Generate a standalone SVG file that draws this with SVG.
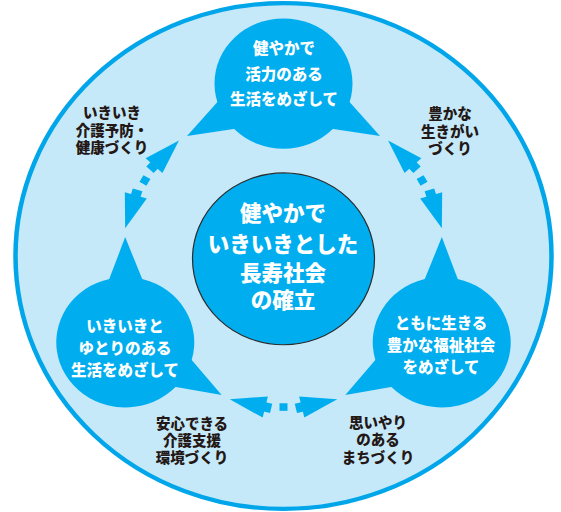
<svg xmlns="http://www.w3.org/2000/svg" xmlns:xlink="http://www.w3.org/1999/xlink" width="561" height="512" viewBox="0 0 561 512">
<style>
.cyan{fill:#00AEEF}
.wt{fill:#FFFFFF;font-family:"Noto Sans CJK JP","Noto Sans",sans-serif;font-weight:900;text-anchor:middle}
.bub{font-size:15.5px}
.ctr{font-size:21.5px}
.lbl{fill:#231815;font-family:"Noto Sans CJK JP","Noto Sans",sans-serif;font-weight:900;font-size:14.5px;text-anchor:middle}
</style>
<defs>
<g id="bubbleShape">
<circle cx="0" cy="-182.7" r="69"/>
<polygon points="-96.5,-127.1 -62.7,-167 -44.75,-135.3"/>
<polygon points="96.5,-127.1 62.7,-167 44.75,-135.3"/>
</g>
<g id="head">
<polygon points="160,18.25 148.5,-18.25 171.5,-18.25"/>
<rect x="155" y="-24.25" width="10" height="6.8"/>
</g>
<rect id="sq" x="156" y="-4" width="8" height="8"/>
</defs>
<g transform="translate(283.5,256) scale(1,0.944)">
<g id="outer-circle">
<circle cx="0" cy="0" r="268" fill="#C6E9FA" stroke="#00A6E9" stroke-width="4.5"/>
</g>
<g id="center-shape">
<circle cx="0" cy="3" r="91" class="cyan" stroke="#2B2B2B" stroke-width="1.2"/>
</g>
<g id="bubble-top-shape" class="cyan"><use xlink:href="#bubbleShape"/></g>
<g id="bubble-right-shape" class="cyan"><use xlink:href="#bubbleShape" transform="rotate(120)"/></g>
<g id="bubble-left-shape" class="cyan"><use xlink:href="#bubbleShape" transform="rotate(240)"/></g>
<g id="connectors" class="cyan">
<use xlink:href="#head" transform="rotate(103)"/>
<use xlink:href="#head" transform="rotate(77) scale(1,-1)"/>
<use xlink:href="#sq" transform="rotate(90)"/>
<use xlink:href="#head" transform="rotate(223)"/>
<use xlink:href="#head" transform="rotate(197) scale(1,-1)"/>
<use xlink:href="#sq" transform="rotate(210)"/>
<use xlink:href="#head" transform="rotate(343)"/>
<use xlink:href="#head" transform="rotate(317) scale(1,-1)"/>
<use xlink:href="#sq" transform="rotate(330)"/>
</g>
</g>
<g id="center">
<text class="wt ctr" x="283" y="221">健やかで</text>
<text class="wt ctr" x="283" y="252">いきいきとした</text>
<text class="wt ctr" x="283" y="281">長寿社会</text>
<text class="wt ctr" x="283" y="308">の確立</text>
</g>
<g id="bubble-top">
<text class="wt bub" x="284" y="54">健やかで</text>
<text class="wt bub" x="284" y="79.5">活力のある</text>
<text class="wt bub" x="284" y="105">生活をめざして</text>
</g>
<g id="bubble-left">
<text class="wt bub" x="125" y="332">いきいきと</text>
<text class="wt bub" x="125" y="354">ゆとりのある</text>
<text class="wt bub" x="125" y="376">生活をめざして</text>
</g>
<g id="bubble-right">
<text class="wt bub" x="441" y="329">ともに生きる</text>
<text class="wt bub" x="441" y="351">豊かな福祉社会</text>
<text class="wt bub" x="441" y="373">をめざして</text>
</g>
<g id="label-prevention">
<text class="lbl" x="112" y="118">いきいき</text>
<text class="lbl" x="112" y="135.5">介護予防・</text>
<text class="lbl" x="112" y="153">健康づくり</text>
</g>
<g id="label-purpose">
<text class="lbl" x="450" y="119">豊かな</text>
<text class="lbl" x="450" y="136.5">生きがい</text>
<text class="lbl" x="450" y="154">づくり</text>
</g>
<g id="label-care">
<text class="lbl" x="192" y="428.7">安心できる</text>
<text class="lbl" x="192" y="445.7">介護支援</text>
<text class="lbl" x="192" y="462.5">環境づくり</text>
</g>
<g id="label-town">
<text class="lbl" x="378" y="427.7">思いやり</text>
<text class="lbl" x="378" y="445">のある</text>
<text class="lbl" x="378" y="462.5">まちづくり</text>
</g>
</svg>
